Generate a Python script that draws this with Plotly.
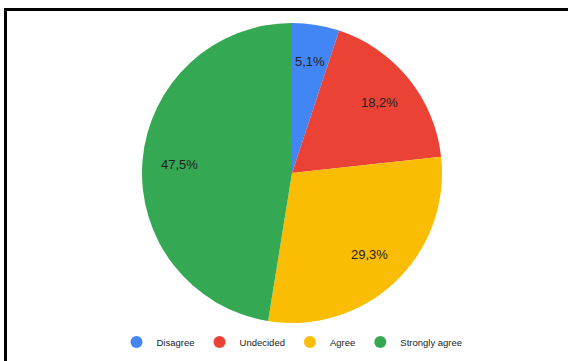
import math
import plotly.graph_objects as go

labels = ["Disagree", "Undecided", "Agree", "Strongly agree"]
values = [5.1, 18.2, 29.3, 47.5]
text_labels = ["5,1%", "18,2%", "29,3%", "47,5%"]
colors = ["#4285F4", "#EA4335", "#FBBC04", "#34A853"]

W, H = 568, 361
cx, cy, r = 292, 173, 150
label_frac = 0.75

fig = go.Figure()
fig.add_trace(go.Pie(
    labels=labels,
    values=values,
    textinfo="none",
    marker=dict(colors=colors, line=dict(width=0)),
    sort=False,
    direction="clockwise",
    rotation=0,
    showlegend=False,
    hoverinfo="label+percent",
    domain=dict(x=[(cx - r) / W, (cx + r) / W], y=[1 - (cy + r) / H, 1 - (cy - r) / H]),
))
for lab, col in zip(labels, colors):
    fig.add_trace(go.Scatter(
        x=[None], y=[None], mode="markers", name=lab,
        marker=dict(symbol="circle", size=11, color=col),
        showlegend=True,
    ))

# slice labels placed on each slice's bisector (derived from the values)
total = sum(values)
annotations = []
cum = 0.0
for v, t in zip(values, text_labels):
    mid = (cum + v / 2) / total * 2 * math.pi
    cum += v
    px = cx + label_frac * r * math.sin(mid)
    py = cy - label_frac * r * math.cos(mid)
    annotations.append(dict(
        x=px / W, y=1 - py / H, xref="paper", yref="paper", text=t, showarrow=False,
        xanchor="center", yanchor="middle",
        font=dict(family="Liberation Sans, Arial", size=13, color="#222222"),
    ))

fig.update_layout(
    width=W, height=H,
    margin=dict(l=0, r=0, t=0, b=0),
    paper_bgcolor="white", plot_bgcolor="white",
    xaxis=dict(visible=False), yaxis=dict(visible=False),
    annotations=annotations,
    legend=dict(orientation="h", x=cx / W, xanchor="center", y=1 - 342 / H, yanchor="middle",
                font=dict(family="Liberation Sans, Arial", size=9.5, color="#222222"),
                itemsizing="constant", itemwidth=30, bgcolor="rgba(0,0,0,0)"),
    shapes=[
        dict(type="line", xref="paper", yref="paper", x0=5.5 / W, x1=1, y0=1 - 9.5 / H, y1=1 - 9.5 / H,
             line=dict(color="black", width=3)),
        dict(type="line", xref="paper", yref="paper", x0=5.5 / W, x1=5.5 / W, y0=0, y1=1 - 8 / H,
             line=dict(color="black", width=3)),
    ],
)
fig.write_html("out.html")
